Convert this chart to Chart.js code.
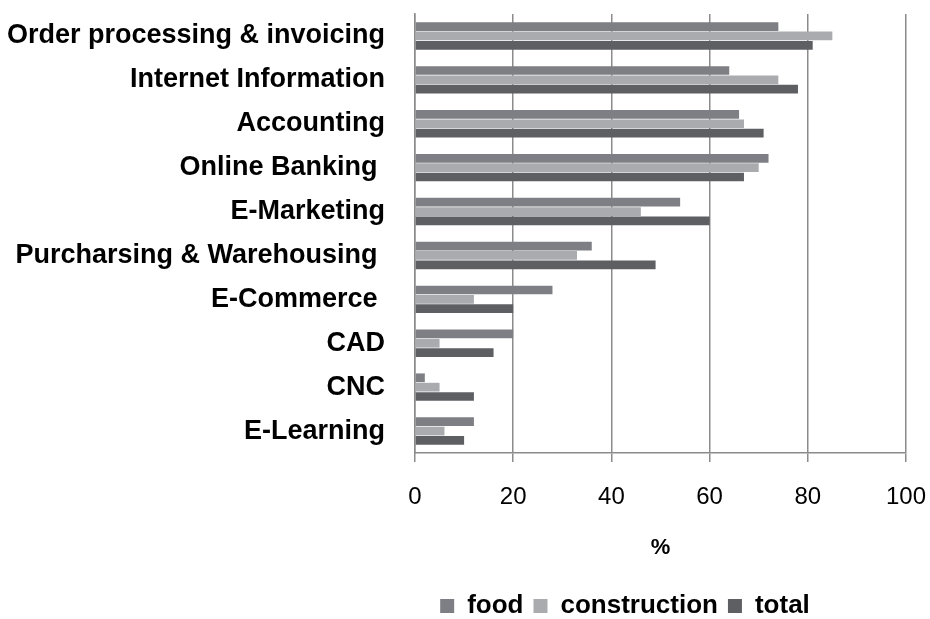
<!DOCTYPE html>
<html>
<head>
<meta charset="utf-8">
<script src="https://cdn.jsdelivr.net/npm/chart.js@4/dist/chart.umd.min.js"></script>
<style>
  html, body { margin: 0; padding: 0; background: #ffffff; overflow: hidden; }
  canvas { display: block; }
</style>
</head>
<body>
<canvas id="chart" width="930" height="619"></canvas>
<script>
// Categories (top to bottom) and the share of firms using each application, in %
const categories = [
  "Order processing & invoicing",
  "Internet Information",
  "Accounting",
  "Online Banking ",
  "E-Marketing",
  "Purcharsing & Warehousing ",
  "E-Commerce ",
  "CAD",
  "CNC",
  "E-Learning"
];
const food         = [74, 64, 66, 72, 54, 36, 28, 20, 2, 12];
const construction = [85, 74, 67, 70, 46, 33, 12, 5, 5, 6];
const total        = [81, 78, 71, 67, 60, 49, 20, 16, 12, 10];
const xTicks = [0, 20, 40, 60, 80, 100];

const gridGray = "#8b8b8b";
const labelFont = "'Liberation Sans', Arial, sans-serif";

// The legend row sits centred under the right-hand part of the figure.
const legendSpan = {
  id: "legendSpan",
  afterLayout(chart) {
    const lg = chart.legend;
    if (!lg) return;
    lg.left = 344;
    lg.right = 906;
    lg.width = lg.right - lg.left;
  }
};

new Chart(document.getElementById("chart"), {
  type: "bar",
  data: {
    labels: categories,
    datasets: [
      { label: "food",         data: food,         backgroundColor: "#7e7f84" },
      { label: "construction", data: construction, backgroundColor: "#a9abae" },
      { label: "total",        data: total,        backgroundColor: "#5e5f63" }
    ]
  },
  plugins: [legendSpan],
  options: {
    indexAxis: "y",
    responsive: false,
    animation: false,
    devicePixelRatio: 1,
    categoryPercentage: 0.64,
    barPercentage: 0.93,
    layout: { padding: { top: 14, right: 24, bottom: -10, left: 0 } },
    plugins: {
      tooltip: { enabled: false },
      legend: {
        position: "bottom",
        labels: {
          color: "#000",
          boxWidth: 14,
          boxHeight: 14,
          padding: 10,
          font: { family: labelFont, size: 26, weight: "bold" }
        }
      }
    },
    scales: {
      y: {
        grid: { display: false, drawTicks: true, tickLength: 30 },
        border: { display: true, color: gridGray, width: 1.5 },
        ticks: {
          autoSkip: false,
          padding: 0,
          color: "#000",
          font: { family: labelFont, size: 27, weight: "bold", lineHeight: 1 }
        },
        afterFit: (scale) => { scale.width = 415; }
      },
      x: {
        min: 0,
        max: 100,
        afterBuildTicks: (scale) => { scale.ticks = xTicks.map(v => ({ value: v })); },
        grid: { color: gridGray, lineWidth: 1.5, drawTicks: true, tickLength: 9 },
        border: { display: true, color: gridGray, width: 1.5 },
        ticks: {
          padding: 0,
          color: "#000",
          font: { family: labelFont, size: 24, lineHeight: "70px" }
        },
        title: {
          display: true,
          text: "%",
          color: "#000",
          padding: { top: 0, bottom: 22 },
          font: { family: labelFont, size: 22, weight: "bold" }
        },
        afterFit: (scale) => { scale.height = 130; }
      }
    }
  }
});
</script>
</body>
</html>
